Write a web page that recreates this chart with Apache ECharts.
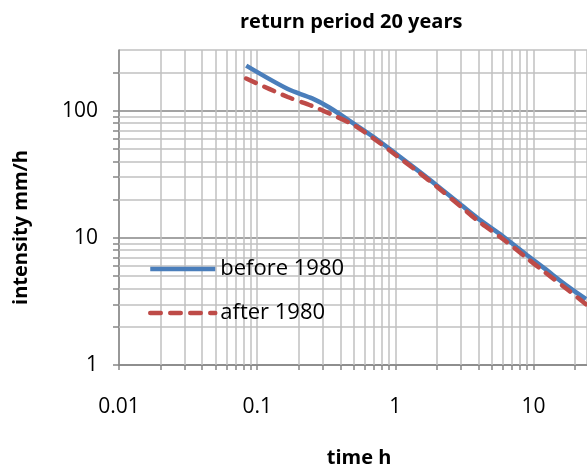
<!DOCTYPE html>
<html>
<head>
<meta charset="utf-8">
<script src="https://cdn.jsdelivr.net/npm/echarts@6/dist/echarts.min.js"></script>
<style>html,body{margin:0;padding:0;background:#fff}#c{width:587px;height:473px}</style>
</head>
<body>
<div id="c"></div>
<script>
// ---- data ----
const durationsH = [0.0833, 0.1667, 0.25, 0.3333, 0.5, 0.75, 1, 1.5, 2, 3, 4, 6, 9, 12, 18, 24];
const before1980 = [226, 148, 125, 106, 79, 58.5, 46.2, 33.0, 25.8, 18.1, 14.1, 10.3, 7.3, 5.75, 4.1, 3.3];
const after1980  = [179, 128, 109, 95, 77, 57, 45, 32.3, 25.2, 17.5, 13.5, 9.8, 6.9, 5.4, 3.85, 3.0];
const xTickLabels = ['0.01', '0.1', '1', '10'];
const yTickLabels = ['1', '10', '100'];
const xMinorValues = [0.02,0.03,0.04,0.05,0.06,0.07,0.08,0.09,0.2,0.3,0.4,0.5,0.6,0.7,0.8,0.9,2,3,4,5,6,7,8,9,20];
const yMinorValues = [2,3,4,5,6,7,8,9,20,30,40,50,60,70,80,90,200];
const titleText = 'return period 20 years';
const xName = 'time h';
const yName = 'intensity mm/h';
const seriesNames = ['before 1980', 'after 1980'];

const xMin = 0.01, xMax = 24.4, yMin = 1, yMax = 300;
const font = 'Open Sans';
const gridCol = '#c0c0c0', axisCol = '#868686';

function fmt(list) {
  return function (v) {
    const s = String(+v.toPrecision(6));
    return list.indexOf(s) >= 0 ? s : '';
  };
}
const pairs = (xs, ys) => xs.map((x, i) => [x, ys[i]]);

const minorLines = xMinorValues.map(v => ({ xAxis: v })).concat(yMinorValues.map(v => ({ yAxis: v })));

const chart = echarts.init(document.getElementById('c'), null, { renderer: 'canvas' });
chart.setOption({
  animation: false,
  backgroundColor: '#fff',
  title: {
    text: titleText, left: 235, top: 7,
    textStyle: { fontFamily: font, fontWeight: 'bold', fontSize: 20, color: '#000' }
  },
  grid: { left: 119, right: 0, top: 50, bottom: 103, containLabel: false },
  legend: {
    orient: 'vertical', left: 143, top: 253, itemWidth: 65, itemHeight: 14, itemGap: 22,
    data: seriesNames,
    itemStyle: { opacity: 0 },
    lineStyle: { width: 4.5 },
    textStyle: { fontFamily: font, fontSize: 22, color: '#000' }
  },
  xAxis: [{
    type: 'log', logBase: 10, min: xMin, max: xMax,
    name: xName, nameLocation: 'middle', nameGap: 83,
    nameTextStyle: { fontFamily: font, fontWeight: 'bold', fontSize: 20, color: '#000', padding: [0, 0, 0, 12] },
    axisLine: { show: true, lineStyle: { color: axisCol, width: 1.5 } },
    axisTick: { show: true, length: 5, lineStyle: { color: axisCol, width: 1.5 } },
    axisLabel: { fontFamily: font, fontSize: 21, color: '#000', margin: 32, formatter: fmt(xTickLabels), showMaxLabel: false },
    splitLine: { show: true, lineStyle: { color: gridCol, width: 1.5 } }
  }, {
    type: 'log', logBase: 10, min: xMin, max: xMax, position: 'bottom', offset: 0,
    axisLine: { show: false },
    axisTick: { show: true, length: 5, customValues: xMinorValues, lineStyle: { color: axisCol, width: 1.5 } },
    axisLabel: { show: false },
    splitLine: { show: false }
  }],
  yAxis: [{
    type: 'log', logBase: 10, min: yMin, max: yMax,
    name: yName, nameLocation: 'middle', nameGap: 88, nameRotate: 90,
    nameTextStyle: { fontFamily: font, fontWeight: 'bold', fontSize: 20, color: '#000', padding: [0, 40, 0, 0] },
    axisLine: { show: true, lineStyle: { color: axisCol, width: 1.5 } },
    axisTick: { show: true, length: 6, lineStyle: { color: axisCol, width: 1.5 } },
    axisLabel: { fontFamily: font, fontSize: 21, color: '#000', margin: 21, padding: [6, 0, 0, 0], formatter: fmt(yTickLabels), showMaxLabel: false },
    splitLine: { show: true, lineStyle: { color: [axisCol, axisCol, axisCol, gridCol], width: 1.5 } }
  }, {
    type: 'log', logBase: 10, min: yMin, max: yMax, position: 'left', offset: 0,
    axisLine: { show: false },
    axisTick: { show: true, length: 6, customValues: yMinorValues, lineStyle: { color: axisCol, width: 1.5 } },
    axisLabel: { show: false },
    splitLine: { show: false }
  }],
  series: [{
    name: 'minor grid', type: 'line', data: [], z: 1, silent: true,
    markLine: {
      silent: true, z: 1, symbol: ['none', 'none'], label: { show: false },
      lineStyle: { color: gridCol, width: 1.5, type: 'solid' },
      emphasis: { disabled: true },
      data: minorLines
    }
  }, {
    name: seriesNames[0], type: 'line', data: pairs(durationsH, before1980),
    showSymbol: false, symbol: 'none', smooth: 0.3, z: 3,
    lineStyle: { color: '#4a7ebb', width: 4.5 }, itemStyle: { color: '#4a7ebb' }
  }, {
    name: seriesNames[1], type: 'line', data: pairs(durationsH, after1980),
    showSymbol: false, symbol: 'none', smooth: 0.3, z: 4,
    lineStyle: { color: '#be4b48', width: 4.5, type: [10.5, 9.5], cap: 'round' }, itemStyle: { color: '#be4b48' }
  }]
});
</script>
</body>
</html>
